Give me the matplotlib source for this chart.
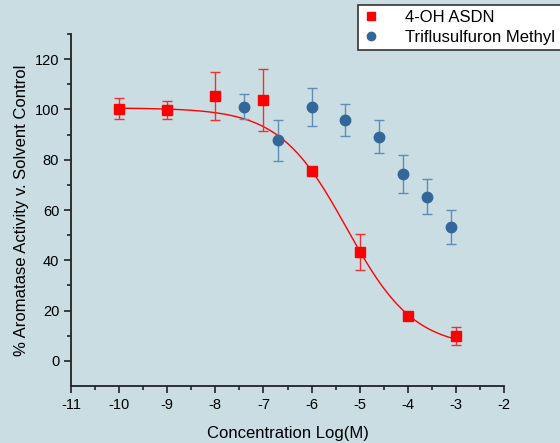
import matplotlib.pyplot as plt
import numpy as np

plt.rcParams['font.family'] = ['Liberation Sans', 'DejaVu Sans']
plt.rcParams['axes.unicode_minus'] = False

# 4-OH ASDN
asdn_x = [-10, -9, -8, -7, -6, -5, -4, -3]
asdn_y = [100.3, 99.6, 105.3, 103.6, 75.4, 43.4, 17.7, 9.8]
asdn_err = [4.2, 3.6, 9.6, 12.3, 0.0, 7.2, 0.0, 3.5]

# Triflusulfuron Methyl
tri_x = [-7.4, -6.7, -6.0, -5.3, -4.6, -4.1, -3.6, -3.1]
tri_y = [101.1, 87.7, 101.0, 95.8, 89.2, 74.3, 65.3, 53.3]
tri_err = [5.1, 8.1, 7.7, 6.3, 6.6, 7.7, 6.9, 6.7]

# sigmoid fit parameters for 4-OH ASDN
fit_top, fit_bottom, fit_logic50, fit_hill = 100.6, 5.0, -5.27, 0.62

bg = '#c9dde2'
red = '#ff0000'
blue = '#336699'

fig = plt.figure(figsize=(5.6, 4.43), dpi=100, facecolor=bg)
ax = fig.add_axes([71/560, 57/443, 433/560, 352/443], facecolor=bg)

xx = np.linspace(asdn_x[0], asdn_x[-1], 300)
yy = fit_bottom + (fit_top - fit_bottom) / (1 + 10 ** ((xx - fit_logic50) * fit_hill))
ax.plot(xx, yy, color=red, lw=1, zorder=2)

ax.errorbar(asdn_x, asdn_y, yerr=asdn_err, fmt='none', ecolor='#f03030',
            elinewidth=1, capsize=3.5, capthick=1, zorder=3)
ax.plot(asdn_x, asdn_y, 's', color=red, ms=7, ls='none', zorder=4, label='4-OH ASDN')

ax.errorbar(tri_x, tri_y, yerr=tri_err, fmt='none', ecolor='#5f8db5',
            elinewidth=1, capsize=3.5, capthick=1, zorder=3)
ax.plot(tri_x, tri_y, 'o', color=blue, ms=7.5, ls='none', zorder=4,
        label='Triflusulfuron Methyl')

ax.set_xlim(-11, -2)
ax.set_ylim(-10, 130)
ax.set_xticks(np.arange(-11, -1, 1))
ax.set_xticks(np.arange(-10.5, -2, 1), minor=True)
ax.set_yticks(np.arange(0, 121, 20))
ax.set_yticks(np.arange(10, 131, 20), minor=True)

for s in ['top', 'right']:
    ax.spines[s].set_visible(False)
for s in ['left', 'bottom']:
    ax.spines[s].set_color('#222222')
    ax.spines[s].set_linewidth(1.3)

ax.tick_params(which='major', direction='out', length=5, width=1.2, labelsize=10.5,
               colors='#222222', labelcolor='black')
ax.tick_params(which='minor', direction='out', length=3, width=1.2, colors='#222222')

ax.set_xlabel('Concentration Log(M)', fontsize=12, labelpad=10)
ax.set_ylabel('% Aromatase Activity v. Solvent Control', fontsize=12, labelpad=4)

leg = fig.legend(loc='upper left', bbox_to_anchor=(358/560, 1 - 50/443, 230/560, 45/443),
                 mode='expand', frameon=True, fancybox=False, fontsize=12,
                 handlelength=1.0, handletextpad=1.5, borderpad=0.3,
                 labelspacing=0.3, borderaxespad=0)
leg.get_frame().set_edgecolor('#333333')
leg.get_frame().set_linewidth(1.2)
leg.get_frame().set_facecolor('white')
leg.get_frame().set_alpha(1)
for h in leg.legend_handles:
    h.set_markersize(6)

fig.savefig('out.png', dpi=100, facecolor=bg)
